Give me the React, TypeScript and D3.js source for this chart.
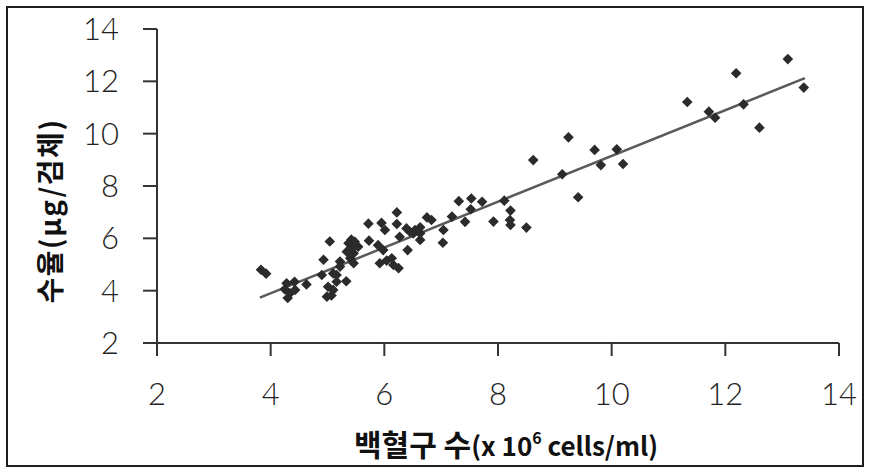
import React from "react";
import * as d3 from "d3";

const xTicks = [2, 4, 6, 8, 10, 12, 14];
const yTicks = [2, 4, 6, 8, 10, 12, 14];

const wbcCount = [
  3.83, 3.92, 4.28, 4.42, 4.34, 4.3, 4.43, 4.25, 4.63, 4.93, 4.9, 5.01, 4.99, 5.1, 5.07, 5.16, 5.33, 5.16, 5.22, 5.1,
  5.04, 5.22, 5.37, 5.48, 5.34, 5.46, 5.4, 5.54, 5.46, 5.43, 5.42, 5.72, 5.73, 5.95, 6.01, 6.22, 6.22, 6.39, 6.51, 6.27,
  6.41, 5.98, 6.04, 5.92, 6.16, 6.25, 5.89, 6.13, 6.54, 6.63, 6.63, 6.45, 6.63,
  6.75, 6.83, 7.04, 7.03, 7.19, 7.31, 7.53, 7.72, 7.52, 7.42, 7.92, 8.11, 8.22, 8.21, 8.22, 8.5,
  8.62, 9.13, 9.24, 9.41, 9.7, 9.81, 10.09, 10.2,
  11.33, 11.71, 11.82, 12.19, 12.32, 12.6, 13.1, 13.38,
];
const yieldUg = [
  4.8, 4.65, 4.28, 4.34, 3.9, 3.72, 4.03, 4.05, 4.24, 5.18, 4.6, 4.15, 3.77, 4.03, 3.82, 4.34, 4.36, 4.6, 4.92, 4.66,
  5.88, 5.11, 5.81, 5.87, 5.49, 5.43, 5.24, 5.68, 5.05, 5.62, 5.95, 6.56, 5.91, 6.59, 6.32, 6.99, 6.55, 6.38, 6.19, 6.06,
  5.55, 5.55, 5.15, 5.05, 4.98, 4.86, 5.74, 5.24, 6.32, 6.42, 5.94, 6.25, 6.19,
  6.8, 6.7, 6.32, 5.83, 6.83, 7.42, 7.52, 7.4, 7.11, 6.63, 6.64, 7.44, 7.06, 6.7, 6.51, 6.41,
  8.99, 8.45, 9.86, 7.57, 9.38, 8.8, 9.4, 8.84,
  11.21, 10.84, 10.61, 12.31, 11.12, 10.23, 12.85, 11.76,
];
const fitX = [3.81, 13.4];
const fitSlope = 0.875;
const fitIntercept = 0.4;

export default function App() {
  const x = d3.scaleLinear().domain([2, 14]).range([157, 839]);
  const y = d3.scaleLinear().domain([2, 14]).range([343, 29]);
  const diamond = d3.symbol().type(d3.symbolDiamond2).size(72)();
  const fitLine = d3
    .line<number>()
    .x((d) => x(d))
    .y((d) => y(fitSlope * d + fitIntercept));
  const tickFont = "Lato, 'DejaVu Sans', sans-serif";
  const titleFont = "'Noto Sans CJK KR', 'Noto Sans', sans-serif";
  return (
    <svg width={870} height={473} style={{ position: "absolute", left: 0, top: 0 }}>
      <rect x={0} y={0} width={870} height={473} fill="#fff" />
      <rect x={7} y={7} width={856} height={459} fill="none" stroke="#1e1e1e" strokeWidth={2} />
      {/* axes */}
      <line x1={x(2)} x2={x(14)} y1={y(2)} y2={y(2)} stroke="#333" strokeWidth={2} />
      <line x1={x(2)} x2={x(2)} y1={y(14)} y2={y(2)} stroke="#333" strokeWidth={2} />
      {yTicks.map((t) => (
        <g key={"y" + t}>
          <line x1={x(2) - 14} x2={x(2)} y1={y(t)} y2={y(t)} stroke="#333" strokeWidth={2} />
          <text
            x={119}
            y={y(t)}
            dy="0.36em"
            textAnchor="end"
            fontFamily={tickFont}
            fontWeight={300}
            fontSize={31}
            fill="#222"
          >
            {t}
          </text>
        </g>
      ))}
      {xTicks.map((t) => (
        <g key={"x" + t}>
          <line x1={x(t)} x2={x(t)} y1={y(2)} y2={y(2) + 13} stroke="#333" strokeWidth={2} />
          <text
            x={x(t)}
            y={405}
            textAnchor="middle"
            fontFamily={tickFont}
            fontWeight={300}
            fontSize={31}
            fill="#222"
          >
            {t}
          </text>
        </g>
      ))}
      {/* fit line */}
      <path d={fitLine(fitX) || ""} fill="none" stroke="#5a5a5a" strokeWidth={2.5} />
      {/* points */}
      {wbcCount.map((v, i) => (
        <path
          key={"p" + i}
          d={diamond || ""}
          transform={`translate(${x(v)},${y(yieldUg[i])})`}
          fill="#2b2b2b"
        />
      ))}
      {/* titles */}
      <text
        transform="translate(61,211) rotate(-90)"
        textAnchor="middle"
        fontFamily={titleFont}
        fontWeight={700}
        fontSize={28}
        letterSpacing={1.5}
        fill="#111"
      >
        수율(μg/검체)
      </text>
      <text x={506} y={456} textAnchor="middle" fontFamily={titleFont} fontWeight={700} fontSize={30} fill="#111">
        백혈구 수
        <tspan fontSize={26}>(x 10</tspan>
        <tspan fontSize={16} dy={-12}>6</tspan>
        <tspan fontSize={26} dy={12}> cells/ml)</tspan>
      </text>
    </svg>
  );
}
